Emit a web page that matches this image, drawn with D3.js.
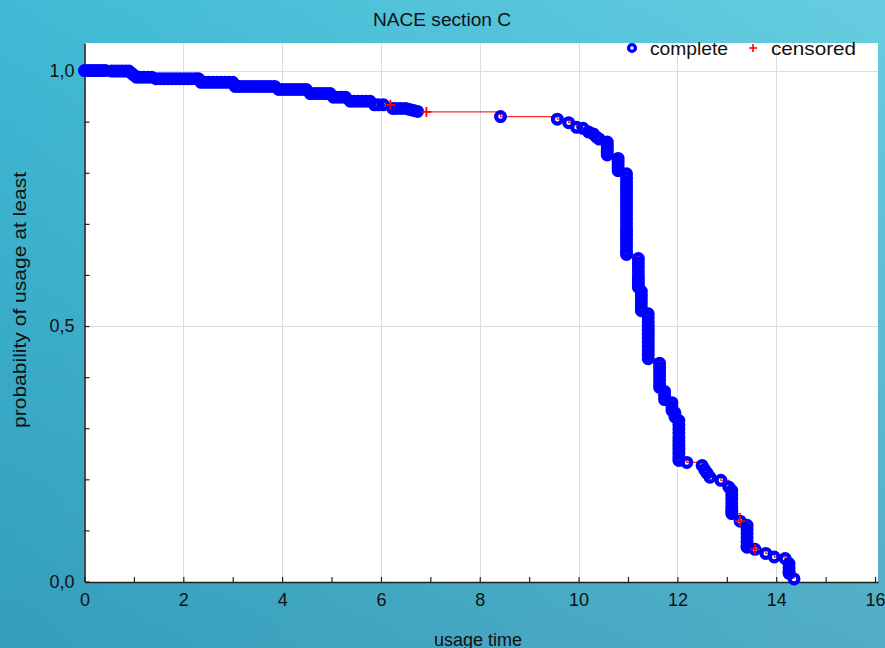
<!DOCTYPE html>
<html>
<head>
<meta charset="utf-8">
<script src="https://cdn.jsdelivr.net/npm/d3@7"></script>
<style>
  html, body { margin: 0; padding: 0; overflow: hidden; }
  svg { display: block; font-family: "Liberation Sans", Arial, sans-serif; }
</style>
</head>
<body>
<div class="km-chart"></div>
<script>

// observed (complete) failures: [usage time, probability of usage at least]
var completePoints = [
  [0.00,1.000],[0.07,1.000],[0.14,1.000],[0.21,1.000],[0.28,1.000],[0.35,1.000],[0.42,1.000],
  [0.55,0.999],[0.62,0.999],[0.69,0.999],[0.76,0.999],[0.83,0.999],[0.90,0.999],
  [0.95,0.995],[1.00,0.991],
  [1.05,0.987],[1.12,0.987],[1.20,0.987],[1.28,0.987],[1.36,0.987],
  [1.45,0.984],[1.53,0.984],[1.61,0.984],[1.69,0.984],[1.77,0.984],[1.85,0.984],
  [1.93,0.984],[2.01,0.984],[2.09,0.984],[2.17,0.984],[2.25,0.984],[2.31,0.984],
  [2.36,0.977],[2.44,0.977],[2.52,0.977],[2.60,0.977],[2.68,0.977],[2.76,0.977],
  [2.84,0.977],[2.92,0.977],[3.00,0.977],
  [3.05,0.969],[3.13,0.969],[3.21,0.969],[3.29,0.969],[3.37,0.969],[3.45,0.969],
  [3.53,0.969],[3.61,0.969],[3.69,0.969],[3.77,0.969],[3.85,0.969],
  [3.93,0.963],[4.01,0.963],[4.09,0.963],[4.17,0.963],[4.25,0.963],[4.33,0.963],
  [4.41,0.963],[4.49,0.963],
  [4.57,0.955],[4.65,0.955],[4.73,0.955],[4.81,0.955],[4.89,0.955],[4.97,0.955],
  [5.04,0.948],[5.12,0.948],[5.20,0.948],[5.28,0.948],
  [5.38,0.940],[5.46,0.940],[5.54,0.940],[5.62,0.940],[5.70,0.940],[5.78,0.940],
  [5.87,0.933],[5.95,0.933],[6.05,0.933],
  [6.24,0.926],[6.32,0.926],[6.41,0.926],[6.50,0.926],
  [6.58,0.924],[6.66,0.922],[6.74,0.920],
  [8.42,0.910],
  [9.57,0.905],[9.80,0.898],[9.96,0.889],[10.09,0.887],[10.20,0.880],
  [10.30,0.876],[10.36,0.870],[10.42,0.866],
  [10.58,0.860],[10.58,0.855],[10.58,0.850],[10.58,0.845],[10.58,0.840],[10.58,0.835],
  [10.80,0.828],[10.80,0.822],[10.80,0.816],[10.80,0.810],[10.80,0.804],
  [10.97,0.798],[10.97,0.790],[10.97,0.782],[10.97,0.774],[10.97,0.766],[10.97,0.758],
  [10.97,0.750],[10.97,0.742],[10.97,0.734],[10.97,0.726],[10.97,0.718],[10.97,0.710],
  [10.97,0.702],[10.97,0.694],[10.97,0.686],[10.97,0.678],[10.97,0.670],[10.97,0.662],
  [10.97,0.654],[10.97,0.646],[10.97,0.640],
  [11.21,0.632],[11.21,0.624],[11.21,0.616],[11.21,0.608],[11.21,0.600],[11.21,0.592],
  [11.21,0.584],[11.21,0.576],
  [11.27,0.568],[11.27,0.560],[11.27,0.552],[11.27,0.544],[11.27,0.536],[11.27,0.530],
  [11.41,0.524],[11.41,0.516],[11.41,0.508],[11.41,0.500],[11.41,0.492],[11.41,0.484],
  [11.41,0.476],[11.41,0.468],[11.41,0.460],[11.41,0.452],[11.41,0.444],[11.41,0.436],
  [11.64,0.427],[11.64,0.419],[11.64,0.411],[11.64,0.403],[11.64,0.395],[11.64,0.387],
  [11.64,0.380],
  [11.74,0.372],[11.74,0.364],[11.74,0.356],
  [11.89,0.350],[11.89,0.342],[11.89,0.335],
  [11.95,0.330],[11.95,0.322],
  [12.03,0.315],[12.03,0.307],[12.03,0.299],[12.03,0.291],[12.03,0.283],[12.03,0.275],
  [12.03,0.267],[12.03,0.259],[12.03,0.251],[12.03,0.243],[12.03,0.237],
  [12.19,0.233],
  [12.50,0.227],[12.55,0.219],[12.60,0.212],[12.66,0.204],
  [12.88,0.198],[13.04,0.185],
  [13.10,0.178],[13.10,0.170],[13.10,0.162],[13.10,0.154],[13.10,0.146],[13.10,0.138],
  [13.10,0.133],
  [13.27,0.118],
  [13.41,0.110],[13.41,0.102],[13.41,0.094],[13.41,0.086],[13.41,0.078],[13.41,0.070],
  [13.41,0.067],
  [13.57,0.063],
  [13.79,0.055],[13.96,0.048],[14.18,0.045],
  [14.26,0.035],[14.26,0.027],[14.26,0.020],[14.26,0.016],
  [14.36,0.005]
];

// censored observations
var censoredPoints = [[6.19,0.933],[6.92,0.919],[13.27,0.118],[13.57,0.063]];

var xTicks = [0,1,2,3,4,5,6,7,8,9,10,11,12,13,14,15,16];
var xLabels = [0,2,4,6,8,10,12,14,16];
var xGrid = [2,4,6,8,10,12,14];
var yTicks = [0,0.1,0.2,0.3,0.4,0.5,0.6,0.7,0.8,0.9,1.0];
var yLabels = [0,0.5,1.0];
var yGrid = [0.5,1.0];

var width = 885, height = 648;
var plot = { left: 84.5, right: 878, top: 43, bottom: 582 };

var svg = d3.select(".km-chart")
  .append("svg")
  .attr("width", width)
  .attr("height", height);

// teal slide background
var defs = svg.append("defs");
var bgH = defs.append("linearGradient").attr("id", "bgH")
  .attr("x1", "0").attr("y1", "0").attr("x2", "1").attr("y2", "0");
bgH.append("stop").attr("offset", "0").attr("stop-color", "#3fbad5");
bgH.append("stop").attr("offset", "1").attr("stop-color", "#66cde0");
var bgV = defs.append("linearGradient").attr("id", "bgV")
  .attr("x1", "0").attr("y1", "0").attr("x2", "0").attr("y2", "1");
bgV.append("stop").attr("offset", "0").attr("stop-color", "#0a3c64").attr("stop-opacity", 0);
bgV.append("stop").attr("offset", "1").attr("stop-color", "#0a3c64").attr("stop-opacity", 0.22);

svg.append("rect").attr("width", width).attr("height", height).attr("fill", "url(#bgH)");
svg.append("rect").attr("width", width).attr("height", height).attr("fill", "url(#bgV)");

// plot area
svg.append("rect")
  .attr("x", plot.left).attr("y", plot.top)
  .attr("width", plot.right - plot.left).attr("height", plot.bottom + 1 - plot.top)
  .attr("fill", "#fff");

var x = d3.scaleLinear().domain([0, 16.06]).range([plot.left, plot.right]);
var y = d3.scaleLinear().domain([0, 1.054]).range([581.5, plot.top]);

// grid
svg.append("g").selectAll("line").data(xGrid).enter().append("line")
  .attr("x1", function(d) { return Math.round(x(d)) + 0.5; })
  .attr("x2", function(d) { return Math.round(x(d)) + 0.5; })
  .attr("y1", plot.top).attr("y2", plot.bottom)
  .attr("stroke", "#dcdcdc").attr("stroke-width", 1);
svg.append("g").selectAll("line").data(yGrid).enter().append("line")
  .attr("y1", function(d) { return Math.round(y(d)) + 0.5; })
  .attr("y2", function(d) { return Math.round(y(d)) + 0.5; })
  .attr("x1", plot.left).attr("x2", plot.right)
  .attr("stroke", "#dcdcdc").attr("stroke-width", 1);

var fmt = function(d) { return d3.format(".1f")(d).replace(".", ","); };

// axes, ticks point inward
var xAxis = d3.axisBottom(x).tickValues(xTicks).tickSize(-5).tickSizeOuter(0).tickPadding(11)
  .tickFormat(function(d) { return xLabels.indexOf(d) >= 0 ? d : ""; });
var yAxis = d3.axisLeft(y).tickValues(yTicks).tickSize(-5).tickSizeOuter(0).tickPadding(10)
  .tickFormat(function(d) { return yLabels.indexOf(d) >= 0 ? fmt(d) : ""; });

var gx = svg.append("g").attr("transform", "translate(0," + plot.bottom + ")").call(xAxis);
var gy = svg.append("g").attr("transform", "translate(" + plot.left + ",0)").call(yAxis);
[gx, gy].forEach(function(g) {
  g.select(".domain").attr("stroke", "#222").attr("stroke-width", 1.6);
  g.selectAll(".tick line").attr("stroke", "#222").attr("stroke-width", 1.2);
  g.selectAll(".tick text").attr("fill", "#111").style("font-size", "18px")
    .style("font-family", "'Liberation Sans', Arial, sans-serif");
});

// step line through every observation
var allPoints = completePoints.concat(censoredPoints).slice().sort(function(a, b) {
  return a[0] - b[0] || b[1] - a[1];
});
var line = d3.line()
  .x(function(d) { return x(d[0]); })
  .y(function(d) { return y(d[1]); })
  .curve(d3.curveStepAfter);

svg.append("path")
  .datum(allPoints)
  .attr("d", line)
  .attr("fill", "none")
  .attr("stroke", "#ff2a2a")
  .attr("stroke-width", 1.3);

svg.append("g").selectAll("circle").data(completePoints).enter().append("circle")
  .attr("cx", function(d) { return x(d[0]); })
  .attr("cy", function(d) { return y(d[1]); })
  .attr("r", 4.4)
  .attr("fill", "none")
  .attr("stroke", "#0000ff")
  .attr("stroke-width", 4.2);

var cross = "M-5,0H5M0,-5V5";
svg.append("g").selectAll("path").data(censoredPoints).enter().append("path")
  .attr("transform", function(d) { return "translate(" + x(d[0]) + "," + y(d[1]) + ")"; })
  .attr("d", cross)
  .attr("stroke", "#ff0000")
  .attr("stroke-width", 1.8);

// legend
var legend = svg.append("g").style("font-size", "18.5px").attr("fill", "#111");
legend.append("circle").attr("cx", 632).attr("cy", 48).attr("r", 3.4)
  .attr("fill", "#fff").attr("stroke", "#0000ff").attr("stroke-width", 3.4);
legend.append("text").attr("x", 650).attr("y", 54.5)
  .attr("textLength", 78).attr("lengthAdjust", "spacingAndGlyphs").text("complete");
legend.append("path").attr("transform", "translate(753,48)").attr("d", "M-4,0H4M0,-4V4")
  .attr("stroke", "#ff0000").attr("stroke-width", 1.6);
legend.append("text").attr("x", 771).attr("y", 54.5)
  .attr("textLength", 85).attr("lengthAdjust", "spacingAndGlyphs").text("censored");

// titles
svg.append("text")
  .attr("x", 442).attr("y", 25.5)
  .attr("text-anchor", "middle")
  .attr("textLength", 138).attr("lengthAdjust", "spacingAndGlyphs")
  .style("font-size", "18px").attr("fill", "#111")
  .text("NACE section C");

svg.append("text")
  .attr("transform", "translate(26,300) rotate(-90)")
  .attr("text-anchor", "middle")
  .attr("textLength", 256).attr("lengthAdjust", "spacingAndGlyphs")
  .style("font-size", "18px").attr("fill", "#111")
  .text("probability of usage at least");

svg.append("text")
  .attr("x", 478).attr("y", 646)
  .attr("text-anchor", "middle")
  .style("font-size", "18px").attr("fill", "#111")
  .text("usage time");

</script>
</body>
</html>
